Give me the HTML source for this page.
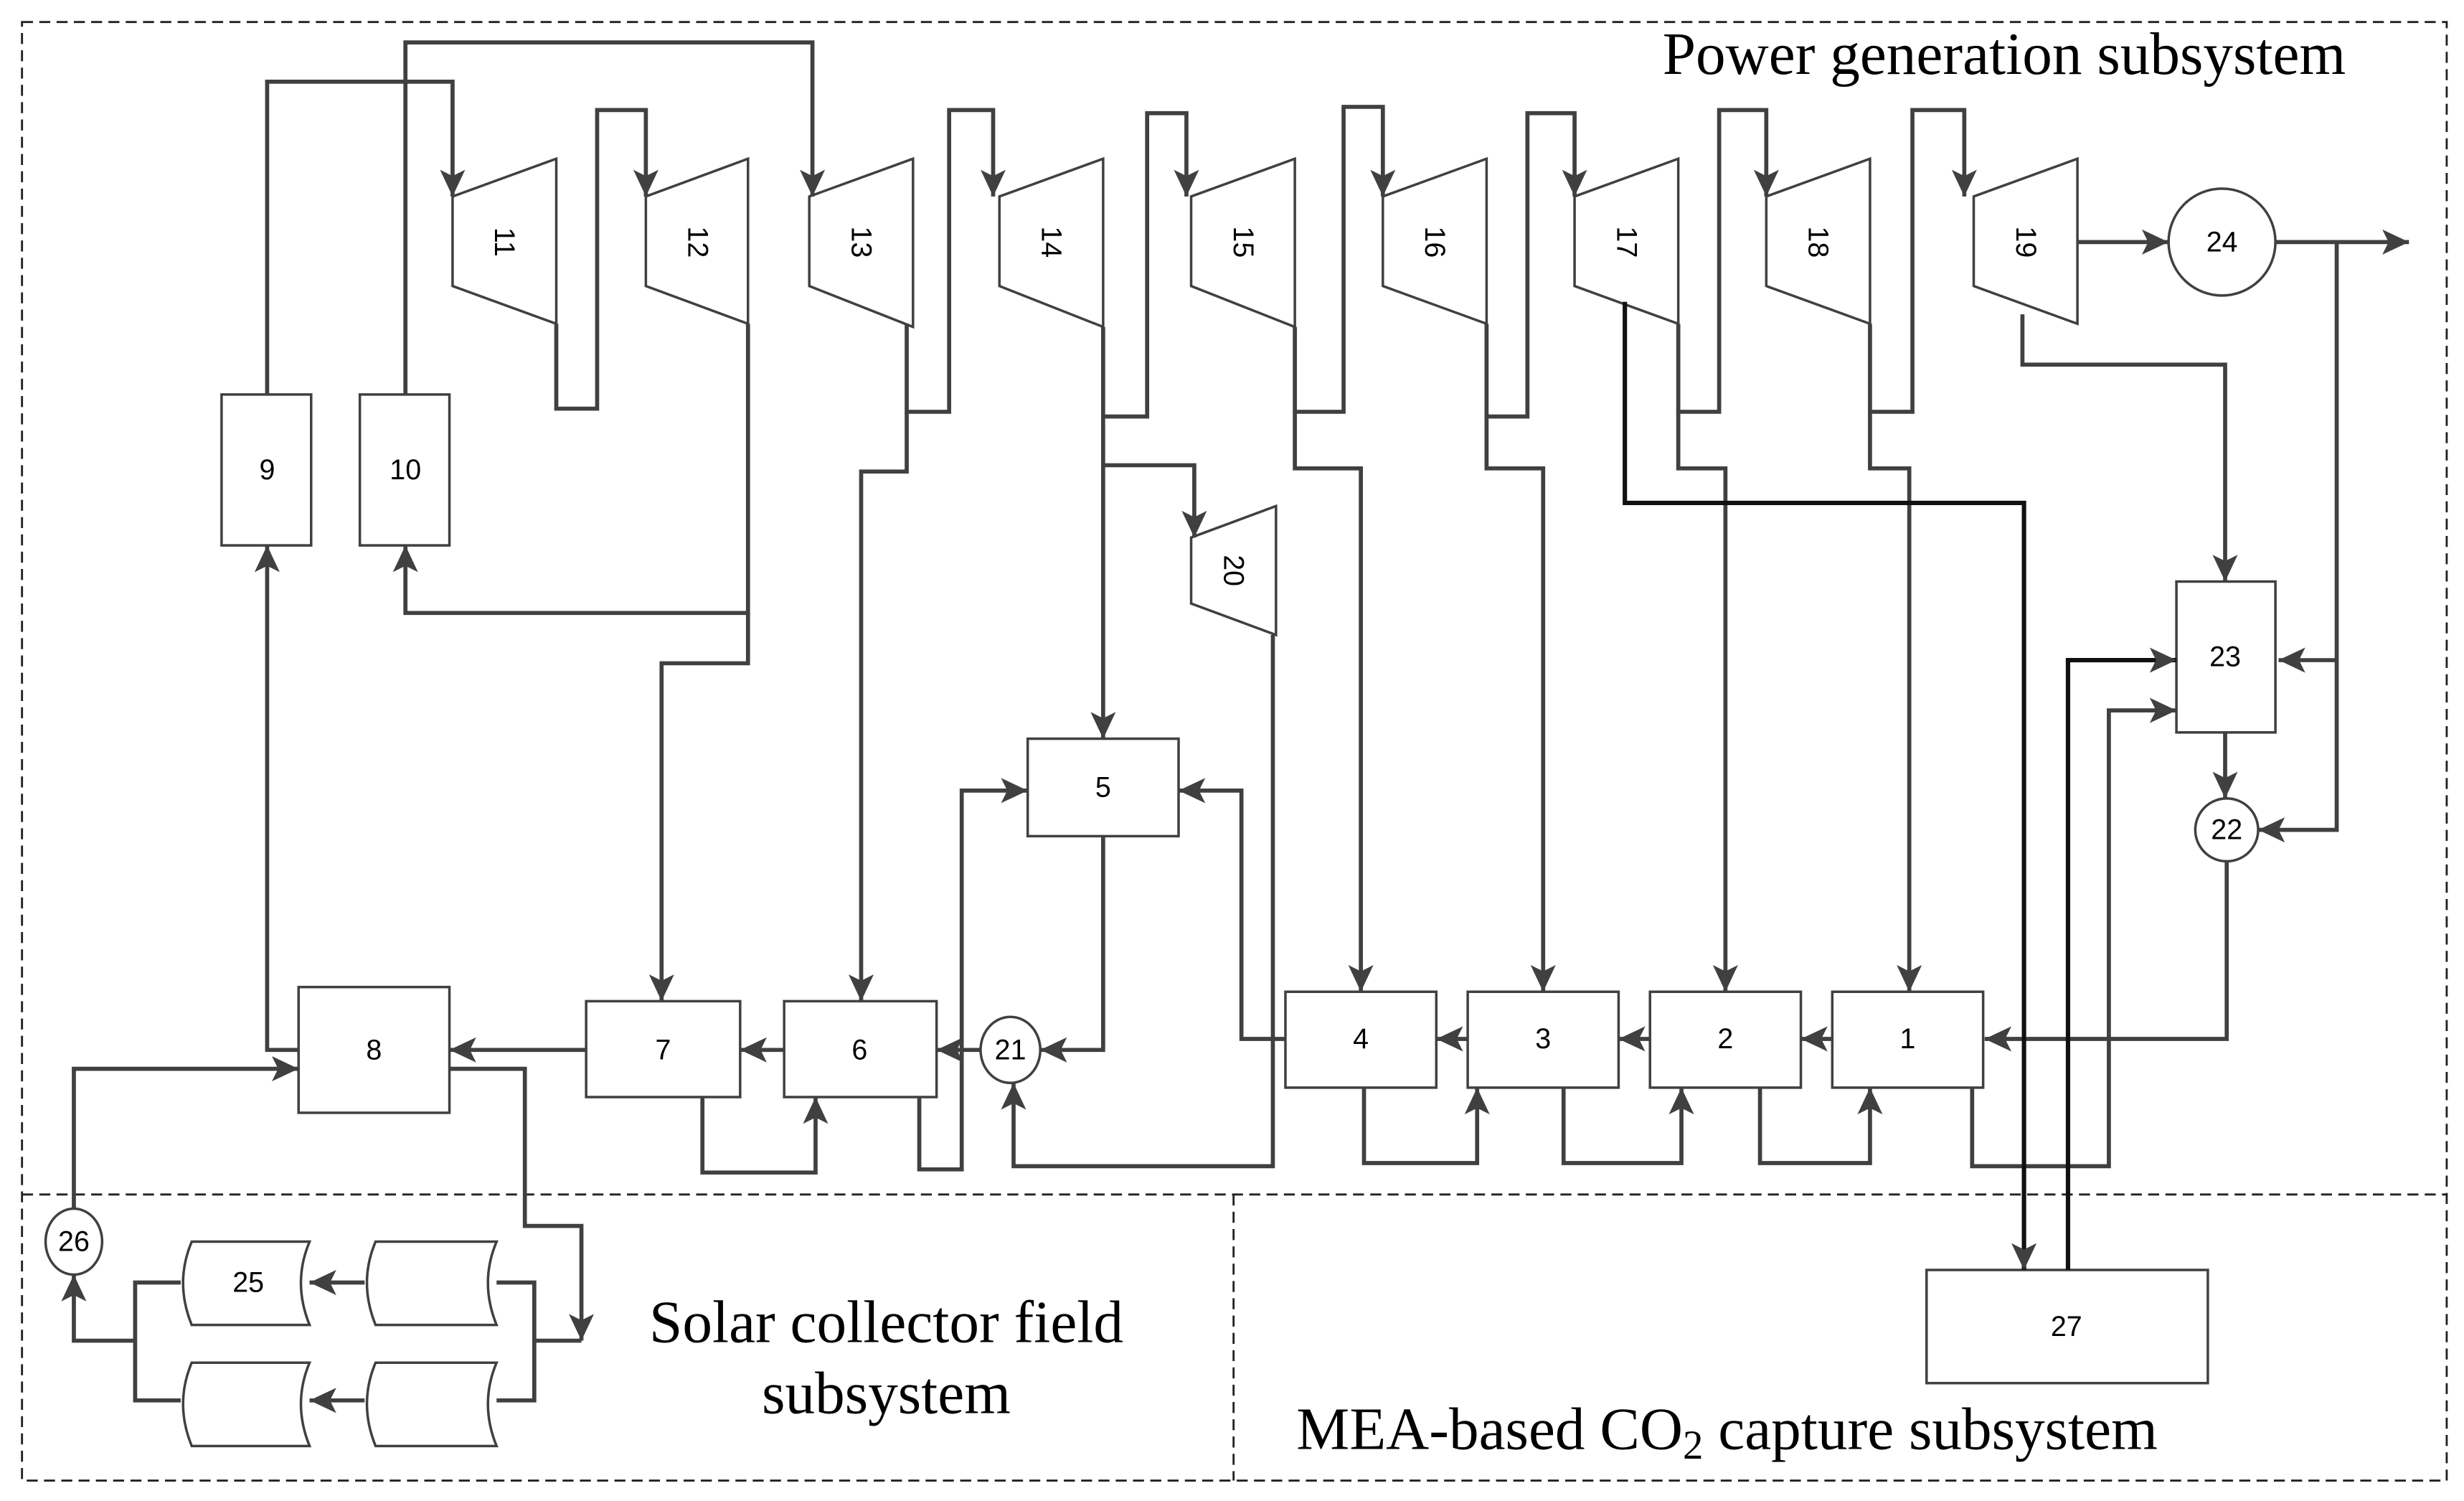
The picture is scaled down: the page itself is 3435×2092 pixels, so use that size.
<!DOCTYPE html>
<html><head><meta charset="utf-8"><style>
html,body{margin:0;padding:0;background:#fff;}
svg{display:block;}
.t{font-family:"Liberation Sans",sans-serif;font-size:18px;fill:#000;text-anchor:middle;dominant-baseline:central;}
.big{font-family:"Liberation Serif",serif;font-size:38px;fill:#000;}
</style></head><body>
<svg width="3435" height="2092" viewBox="0 0 1568 955" preserveAspectRatio="none" xmlns="http://www.w3.org/2000/svg">
<defs>
<marker id="a" markerUnits="userSpaceOnUse" markerWidth="18" markerHeight="16" refX="17" refY="8" orient="auto">
<path d="M0,0 L17,8 L0,16 L4,8 Z" fill="#404040"/>
</marker>
</defs>
<rect width="1568" height="955" fill="#fff"/>
<g fill="none" stroke="#222" stroke-width="1.3" stroke-dasharray="7,4">
<rect x="14" y="14" width="1543" height="928"/>
<line x1="14" y1="760" x2="1557" y2="760"/>
<line x1="785" y1="760" x2="785" y2="942"/>
</g>
<g fill="#fff" stroke="#404040" stroke-width="1.6">
<path d="M288,125 L354,101 L354,206 L288,182 Z"/>
<path d="M411,125 L476,101 L476,206 L411,182 Z"/>
<path d="M515,125 L581,101 L581,208 L515,182 Z"/>
<path d="M636,125 L702,101 L702,208 L636,182 Z"/>
<path d="M758,125 L824,101 L824,208 L758,182 Z"/>
<path d="M880,125 L946,101 L946,206 L880,182 Z"/>
<path d="M1002,125 L1068,101 L1068,206 L1002,182 Z"/>
<path d="M1124,125 L1190,101 L1190,206 L1124,182 Z"/>
<path d="M1256,125 L1322,101 L1322,206 L1256,182 Z"/>
<path d="M758,342 L812,322 L812,404 L758,384 Z"/>
<rect x="141" y="251" width="57" height="96"/>
<rect x="229" y="251" width="57" height="96"/>
<rect x="654" y="470" width="96" height="62"/>
<rect x="1385" y="370" width="63" height="96"/>
<rect x="190" y="628" width="96" height="80"/>
<rect x="373" y="637" width="98" height="61"/>
<rect x="499" y="637" width="97" height="61"/>
<rect x="818" y="631" width="96" height="61"/>
<rect x="934" y="631" width="96" height="61"/>
<rect x="1050" y="631" width="96" height="61"/>
<rect x="1166" y="631" width="96" height="61"/>
<rect x="1226" y="808" width="179" height="72"/>
<circle cx="1414" cy="154" r="34"/>
<circle cx="1417" cy="528" r="20"/>
<ellipse cx="643" cy="668" rx="19" ry="21"/>
<ellipse cx="47" cy="790" rx="18" ry="21"/>
<path d="M122,790 L197,790 Q186,816 197,843 L122,843 Q111,816 122,790 Z"/>
<path d="M239,790 L316,790 Q305,816 316,843 L239,843 Q228,816 239,790 Z"/>
<path d="M122,867 L197,867 Q186,893 197,920 L122,920 Q111,893 122,867 Z"/>
<path d="M239,867 L316,867 Q305,893 316,920 L239,920 Q228,893 239,867 Z"/>
</g>
<g fill="none" stroke="#404040" stroke-width="2.6" stroke-linejoin="miter">
<polyline points="170,251 170,52 288,52 288,125" marker-end="url(#a)"/>
<polyline points="258,251 258,27 517,27 517,125" marker-end="url(#a)"/>
<polyline points="354,206 354,260 380,260 380,70 411,70 411,125" marker-end="url(#a)"/>
<polyline points="476,206 476,390 258,390 258,347" marker-end="url(#a)"/>
<polyline points="476,390 476,422 421,422 421,637" marker-end="url(#a)"/>
<polyline points="577,206 577,262 604,262 604,70 632,70 632,125" marker-end="url(#a)"/>
<polyline points="577,262 577,300 548,300 548,637" marker-end="url(#a)"/>
<polyline points="702,208 702,265 730,265 730,72 755,72 755,125" marker-end="url(#a)"/>
<polyline points="702,265 702,296 760,296 760,342" marker-end="url(#a)"/>
<polyline points="702,296 702,470" marker-end="url(#a)"/>
<polyline points="824,208 824,262 855,262 855,68 880,68 880,125" marker-end="url(#a)"/>
<polyline points="824,262 824,298 866,298 866,631" marker-end="url(#a)"/>
<polyline points="946,206 946,265 972,265 972,72 1002,72 1002,125" marker-end="url(#a)"/>
<polyline points="946,265 946,298 982,298 982,631" marker-end="url(#a)"/>
<polyline points="1068,206 1068,262 1094,262 1094,70 1124,70 1124,125" marker-end="url(#a)"/>
<polyline points="1068,262 1068,298 1098,298 1098,631" marker-end="url(#a)"/>
<polyline points="1190,206 1190,262 1217,262 1217,70 1250,70 1250,125" marker-end="url(#a)"/>
<polyline points="1190,262 1190,298 1215,298 1215,631" marker-end="url(#a)"/>
<polyline points="1322,154 1380,154" marker-end="url(#a)"/>
<polyline points="1448,154 1533,154" marker-end="url(#a)"/>
<polyline points="1487,154 1487,528 1437,528" marker-end="url(#a)"/>
<polyline points="1487,420 1450,420" marker-end="url(#a)"/>
<polyline points="1287,200 1287,232 1416,232 1416,370" marker-end="url(#a)"/>
<polyline points="1416,466 1416,508" marker-end="url(#a)"/>
<polyline points="1417,548 1417,661 1263,661" marker-end="url(#a)"/>
<polyline points="1255,692 1255,742 1342,742 1342,452 1385,452" marker-end="url(#a)"/>
<polyline points="1166,661 1146,661" marker-end="url(#a)"/>
<polyline points="1050,661 1030,661" marker-end="url(#a)"/>
<polyline points="934,661 914,661" marker-end="url(#a)"/>
<polyline points="818,661 790,661 790,503 750,503" marker-end="url(#a)"/>
<polyline points="702,532 702,668 662,668" marker-end="url(#a)"/>
<polyline points="624,668 596,668" marker-end="url(#a)"/>
<polyline points="585,698 585,744 612,744 612,503 654,503" marker-end="url(#a)"/>
<polyline points="810,404 810,742 645,742 645,689" marker-end="url(#a)"/>
<polyline points="499,668 471,668" marker-end="url(#a)"/>
<polyline points="373,668 286,668" marker-end="url(#a)"/>
<polyline points="447,698 447,746 519,746 519,698" marker-end="url(#a)"/>
<polyline points="868,692 868,740 940,740 940,692" marker-end="url(#a)"/>
<polyline points="995,692 995,740 1070,740 1070,692" marker-end="url(#a)"/>
<polyline points="1120,692 1120,740 1190,740 1190,692" marker-end="url(#a)"/>
<polyline points="190,668 170,668 170,347" marker-end="url(#a)"/>
<polyline points="47,769 47,680 190,680" marker-end="url(#a)"/>
<polyline points="286,680 334,680 334,780 370,780 370,853" marker-end="url(#a)"/>
<polyline points="370,853 340,853"/>
<polyline points="316,816 340,816 340,891 316,891"/>
<polyline points="232,816 197,816" marker-end="url(#a)"/>
<polyline points="232,891 197,891" marker-end="url(#a)"/>
<polyline points="115,816 86,816 86,891 115,891"/>
<polyline points="86,853 47,853 47,811" marker-end="url(#a)"/>
</g>
<g fill="none" stroke="#111" stroke-width="2.8">
<polyline points="1034,192 1034,320 1288,320 1288,808" marker-end="url(#a)"/>
<polyline points="1316,808 1316,420 1385,420" marker-end="url(#a)"/>
</g>
<g class="t">
<text x="321" y="154" transform="rotate(90 321 154)">11</text>
<text x="444" y="154" transform="rotate(90 444 154)">12</text>
<text x="548" y="154" transform="rotate(90 548 154)">13</text>
<text x="669" y="154" transform="rotate(90 669 154)">14</text>
<text x="791" y="154" transform="rotate(90 791 154)">15</text>
<text x="913" y="154" transform="rotate(90 913 154)">16</text>
<text x="1035" y="154" transform="rotate(90 1035 154)">17</text>
<text x="1157" y="154" transform="rotate(90 1157 154)">18</text>
<text x="1289" y="154" transform="rotate(90 1289 154)">19</text>
<text x="785" y="363" transform="rotate(90 785 363)">20</text>
<text x="170" y="299">9</text>
<text x="258" y="299">10</text>
<text x="702" y="501">5</text>
<text x="1416" y="418">23</text>
<text x="238" y="668">8</text>
<text x="422" y="668">7</text>
<text x="547" y="668">6</text>
<text x="866" y="661">4</text>
<text x="982" y="661">3</text>
<text x="1098" y="661">2</text>
<text x="1214" y="661">1</text>
<text x="1315" y="844">27</text>
<text x="1414" y="154">24</text>
<text x="1417" y="528">22</text>
<text x="643" y="668">21</text>
<text x="47" y="790">26</text>
<text x="158" y="816">25</text>
</g>
<text class="big" x="1058" y="47">Power generation subsystem</text>
<text class="big" x="564" y="854" text-anchor="middle">Solar collector field</text>
<text class="big" x="564" y="899" text-anchor="middle">subsystem</text>
<text class="big" x="825" y="922">MEA-based CO<tspan font-size="26" dy="6">2</tspan><tspan dy="-6"> capture subsystem</tspan></text>
</svg>
</body></html>
